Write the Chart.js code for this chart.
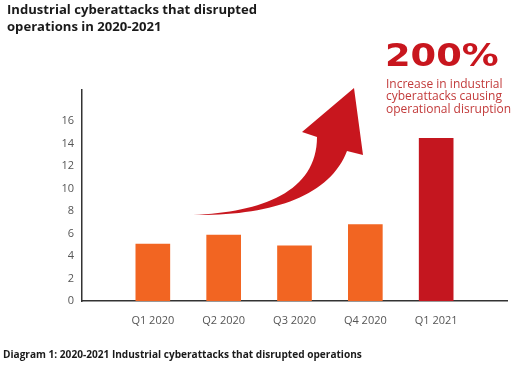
<!DOCTYPE html>
<html>
<head>
<meta charset="utf-8">
<script src="https://cdn.jsdelivr.net/npm/chart.js@4.4.1/dist/chart.umd.min.js"></script>
<style>
  body { margin: 0; background: #fff; }
  .wrap { position: relative; width: 520px; height: 366px; font-family: "Open Sans", sans-serif; }
  canvas { position: absolute; left: 0; top: 0; }
  .title { position: absolute; left: 7px; top: 1px; font-weight: 700; font-size: 13.1px; line-height: 17px; color: #1a1a1a; }
  .caption { position: absolute; left: 3px; top: 347px; font-weight: 700; font-size: 10.1px; color: #1a1a1a; }
  .big { position: absolute; left: 385px; top: 35px; font-family: "DejaVu Sans", sans-serif; font-weight: 700; font-size: 32px; line-height: 40px; color: #c8161e; transform: scaleX(1.15); transform-origin: left top; }
  .note { position: absolute; left: 386px; top: 78px; font-size: 12px; line-height: 12.4px; color: #c23a3a; }
</style>
</head>
<body>
<div class="wrap">
  <canvas id="barChart" width="520" height="366"></canvas>
  <div class="title">Industrial cyberattacks that disrupted<br>operations in 2020-2021</div>
  <div class="big">200%</div>
  <div class="note">Increase in industrial<br>cyberattacks causing<br>operational disruption</div>
  <div class="caption">Diagram 1: 2020-2021 Industrial cyberattacks that disrupted operations</div>
</div>
<script>
// data
const quarters = ['Q1 2020', 'Q2 2020', 'Q3 2020', 'Q4 2020', 'Q1 2021'];
const attacks = [5.05, 5.85, 4.9, 6.8, 14.45];
const yTicksMax = 16;

const orange = '#f26522';
const darkRed = '#c4161f';

// big curved arrow drawn over the chart
const arrowPlugin = {
  id: 'arrow',
  afterDatasetsDraw(chart) {
    const ctx = chart.ctx;
    ctx.save();
    ctx.fillStyle = '#c8161e';
    ctx.beginPath();
    ctx.moveTo(193, 215);
    ctx.bezierCurveTo(262, 212, 317, 192, 317, 137);
    ctx.lineTo(302, 132);
    ctx.lineTo(354, 88);
    ctx.lineTo(363, 155);
    ctx.lineTo(347, 151);
    ctx.bezierCurveTo(330, 196, 272, 216, 193, 215);
    ctx.closePath();
    ctx.fill();
    ctx.restore();
  }
};

function barChart() {
  const ctx = document.getElementById('barChart');
  // empty slot at each end gives the extra room left and right of the bars
  const labels = [''].concat(quarters, ['']);
  const data = [null].concat(attacks, [null]);
  const colors = data.map((v, i) => i === attacks.length ? darkRed : orange);

  new Chart(ctx, {
    type: 'bar',
    data: {
      labels: labels,
      datasets: [{
        data: data,
        backgroundColor: colors,
        borderWidth: 0,
        barThickness: 34
      }]
    },
    options: {
      responsive: false,
      animation: false,
      layout: { padding: { top: 90, right: 13, left: 0, bottom: 0 } },
      plugins: {
        legend: { display: false },
        tooltip: { enabled: false }
      },
      scales: {
        x: {
          offset: false,
          grid: { display: false, drawTicks: false },
          border: { display: true, color: '#333', width: 1.5 },
          ticks: {
            autoSkip: false,
            maxRotation: 0,
            padding: 13,
            color: '#555',
            font: { family: 'Open Sans', size: 11 }
          },
          afterFit: s => { s.height = 65; }
        },
        y: {
          min: 0,
          max: 18.75,
          grid: { display: false, drawTicks: false },
          border: { display: true, color: '#333', width: 1.5 },
          ticks: {
            stepSize: 2,
            padding: 8,
            color: '#555',
            font: { family: 'Open Sans', size: 11 },
            callback: v => v > yTicksMax ? '' : v
          },
          afterFit: s => { s.width = 82; }
        }
      }
    },
    plugins: [arrowPlugin]
  });
}

barChart();
</script>
</body>
</html>
